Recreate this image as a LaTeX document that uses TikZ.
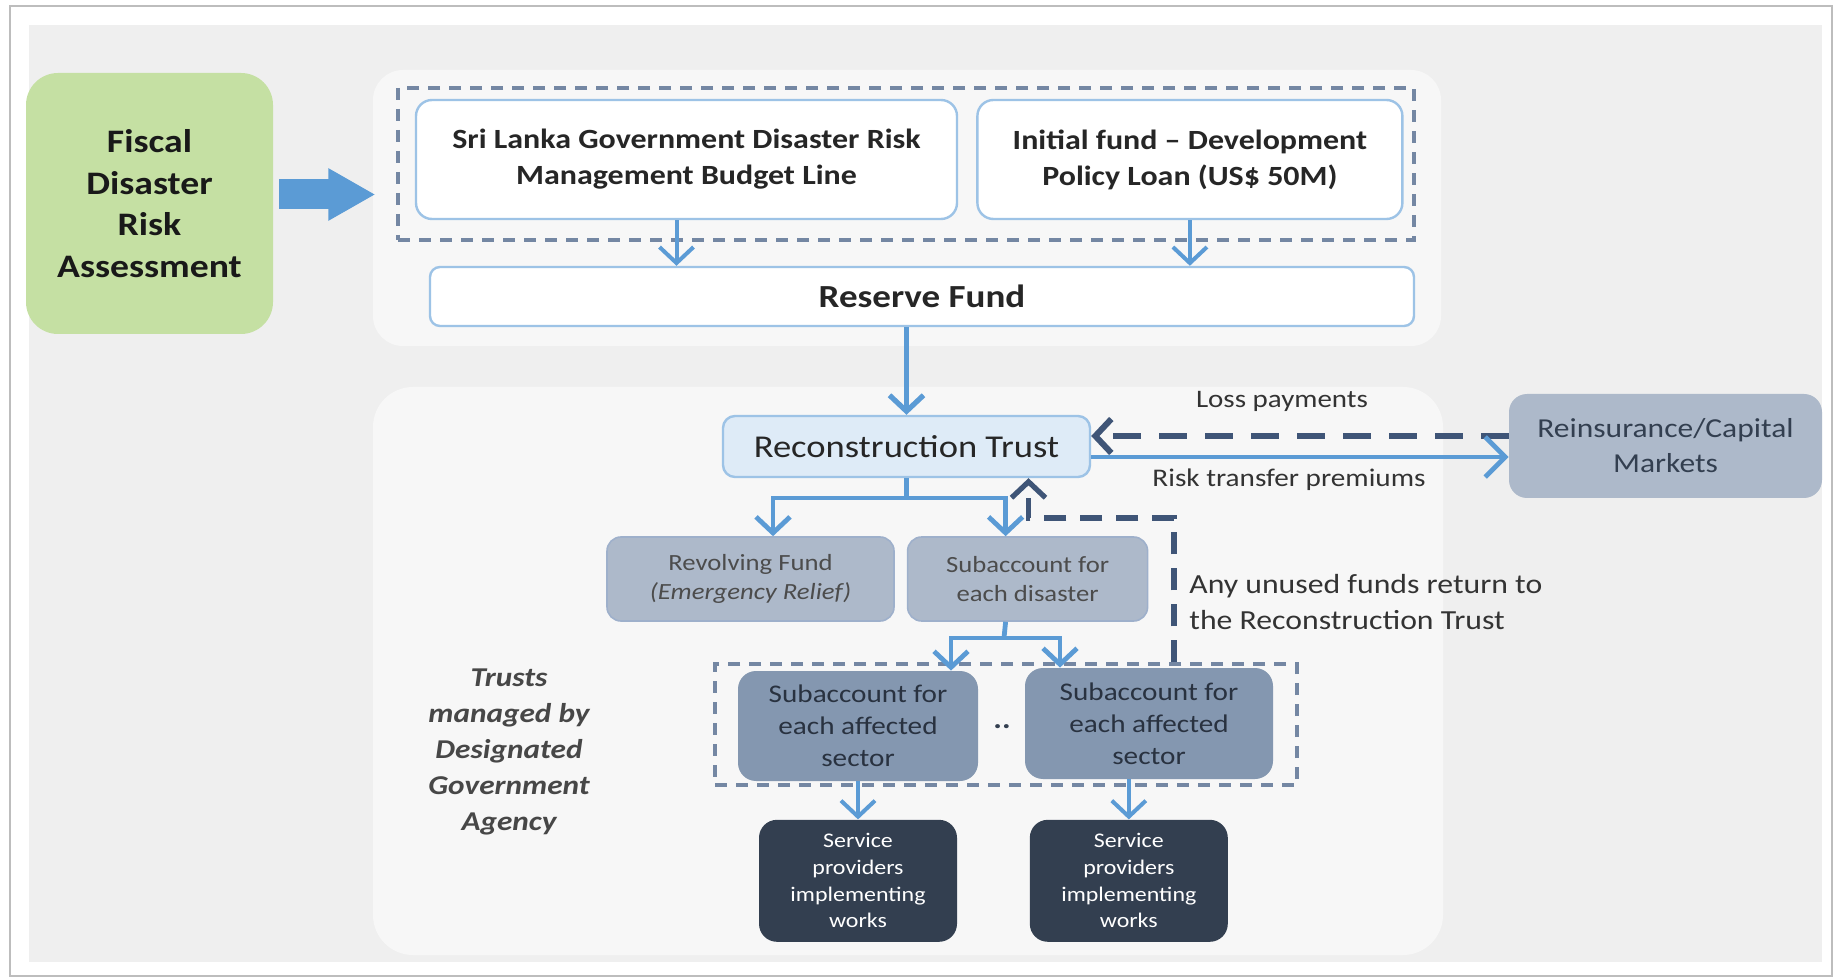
\documentclass[tikz,border=0pt]{standalone}
\usepackage{fontspec}
\setmainfont{Carlito}[FakeStretch=1.15]
\usetikzlibrary{arrows.meta,positioning}

\definecolor{bggrey}{HTML}{EFEFEF}
\definecolor{panelgrey}{HTML}{F7F7F7}
\definecolor{framegrey}{HTML}{BDBDBD}
\definecolor{fiscalgreen}{HTML}{C5E0A3}
\definecolor{flowblue}{HTML}{5B9BD5}
\definecolor{edgeblue}{HTML}{9DC3E6}
\definecolor{paleblue}{HTML}{DEEBF7}
\definecolor{greyblue}{HTML}{ADB9CA}
\definecolor{greyedge}{HTML}{9EB0CB}
\definecolor{sectorblue}{HTML}{8497B0}
\definecolor{navy}{HTML}{333F50}
\definecolor{dashgrey}{HTML}{7487A3}
\definecolor{darkslate}{HTML}{3F5577}

\begin{document}
\begin{tikzpicture}[x=0.5pt, y=-0.5pt, node distance=10pt,
  lightbox/.style={rectangle, draw=edgeblue, line width=1.2pt, rounded corners=8pt, fill=white, align=center, inner sep=0pt, text=black!85},
  greybox/.style={rectangle, draw=greyedge, line width=0.8pt, rounded corners=7pt, fill=greyblue, align=center, inner sep=0pt, text=black!70, font=\fontsize{11.6}{14.6}\selectfont},
  sectorbox/.style={rectangle, rounded corners=9pt, fill=sectorblue, align=center, inner sep=0pt, text=navy!80!black, font=\fontsize{12.7}{16}\selectfont},
  workbox/.style={rectangle, rounded corners=9pt, fill=navy, align=center, inner sep=0pt, text=white, font=\fontsize{10.4}{13.3}\selectfont},
  group/.style={rectangle, draw=dashgrey, line width=1.6pt, dash pattern=on 6pt off 4.5pt, inner sep=0pt},
  flow/.style={draw=flowblue, line width=2pt, -{Straight Barb[length=8pt,width=17pt]}},
  backflow/.style={draw=darkslate, line width=2.6pt, dash pattern=on 11pt off 7pt, -{Straight Barb[length=8pt,width=17pt]}},
  lbl/.style={inner sep=0pt, text=black!80}]

  % page and panels
  \path[use as bounding box, fill=white] (0,0) rectangle (1837,978);
  \fill[bggrey] (29,25) rectangle (1822,962);
  \draw[framegrey, line width=1pt] (10,6) rectangle (1832,976);
  \fill[panelgrey, rounded corners=15pt] (373,70) rectangle (1441,346);
  \fill[panelgrey, rounded corners=20pt] (373,387) rectangle (1443,955);

  % funding sources
  \node[rectangle, rounded corners=16pt, fill=fiscalgreen, minimum width=123.5pt, minimum height=130.5pt, align=center, inner sep=0pt, text=black!90, font=\bfseries\fontsize{16.4}{20.8}\selectfont] (fiscal) at (149.5,203.5) {Fiscal\\Disaster\\Risk\\Assessment};
  \node[group, minimum width=508pt, minimum height=76pt] (topgrp) at (906,164) {};
  \node[lightbox, minimum width=270.5pt, minimum height=59.5pt, font=\bfseries\fontsize{13.9}{18}\selectfont] (budget) at (686.5,159.5) {Sri Lanka Government Disaster Risk\\Management Budget Line};
  \node[lightbox, minimum width=212.5pt, minimum height=59.5pt, right=9pt of budget, font=\bfseries\fontsize{13.9}{18}\selectfont] (loan) {Initial fund -- Development\\Policy Loan (US\$ 50M)};
  \node[lightbox, rounded corners=5pt, minimum width=492pt, minimum height=29.5pt, font=\bfseries\fontsize{16.1}{19}\selectfont] (reserve) at (922,296.5) {Reserve Fund};

  % trust and market
  \node[lightbox, fill=paleblue, rounded corners=6pt, minimum width=183.5pt, minimum height=30.5pt, font=\fontsize{15.9}{19}\selectfont] (trust) at (906.5,446.5) {Reconstruction Trust};
  \node[rectangle, rounded corners=9pt, fill=greyblue, minimum width=156.5pt, minimum height=52pt, align=center, inner sep=0pt, text=navy, font=\fontsize{13.7}{17.5}\selectfont] (market) at (1665.5,446) {Reinsurance/Capital\\Markets};
  \node[lbl, font=\fontsize{12.6}{15}\selectfont] (loss) at (1282,401) {Loss payments};
  \node[lbl, font=\fontsize{12.7}{15}\selectfont] (premium) at (1289,480) {Risk transfer premiums};

  % subaccounts
  \node[greybox, minimum width=143.5pt, minimum height=42pt] (revolving) at (750.5,579) {Revolving Fund\\\textit{(Emergency Relief)}};
  \node[greybox, minimum width=120pt, minimum height=42pt, right=6pt of revolving] (disaster) {Subaccount for\\each disaster};
  \node[lbl, anchor=west, align=left, font=\fontsize{13.8}{18}\selectfont] (unused) at (1189,602) {Any unused funds return to\\the Reconstruction Trust};
  \node[group, minimum width=291pt, minimum height=60.5pt] (secgrp) at (1006,724.5) {};
  \node[sectorbox, minimum width=120pt, minimum height=55pt] (sector1) at (858,726) {Subaccount for\\each affected\\sector};
  \node[sectorbox, minimum width=124pt, minimum height=55.5pt] (sector2) at (1149,723.5) {Subaccount for\\each affected\\sector};
  \node[lbl, text=navy, font=\bfseries\fontsize{14}{16}\selectfont] (dots) at (1002,727) {..};
  \node[workbox, minimum width=99pt, minimum height=61pt, below=19pt of sector1] (works1) {Service\\providers\\implementing\\works};
  \node[workbox, minimum width=99pt, minimum height=61pt, right=36pt of works1] (works2) {Service\\providers\\implementing\\works};
  \node[lbl, align=center, text=black!72, font=\bfseries\itshape\fontsize{13.6}{17.9}\selectfont] (agency) at (509,752) {Trusts\\managed by\\Designated\\Government\\Agency};

  % connectors
  \draw[draw=flowblue, line width=15pt, -{Triangle[length=23.5pt,width=24.5pt]}] ([xshift=3pt,yshift=4.5pt]fiscal.east) -- ++(48pt,0);
  \draw[flow] ([xshift=-5pt]budget.south) -- ([xshift=-5pt]budget.south |- reserve.north);
  \draw[flow] (loan.south) -- (loan.south |- reserve.north);
  \draw[flow, line width=2.6pt] (reserve.south -| trust.north) -- (trust.north);
  \draw[backflow, line width=3pt, dash pattern=on 14pt off 9pt] ([yshift=5pt]market.west) -- ([yshift=5pt]market.west -| trust.east);
  \draw[flow, line width=2.4pt, -{Straight Barb[length=10pt,width=20pt]}] ([yshift=-5.25pt]trust.east) -- ([yshift=-5.25pt]trust.east -| market.west);
  \coordinate (split) at (906.5,498);
  \draw[draw=flowblue, line width=2.4pt] (trust.south) -- (split);
  \draw[flow, line width=2.4pt] (split) -| ([xshift=11.25pt]revolving.north);
  \draw[flow, line width=2.4pt] (split) -| ([xshift=-11pt]disaster.north);
  \coordinate (bend) at (1174,518);
  \draw[backflow] (secgrp.north -| bend) -- (bend) -| ([xshift=61pt]trust.south);
  \coordinate (split2) at (1004,638);
  \draw[draw=flowblue, line width=2.4pt] ([xshift=-11pt]disaster.south) -- (split2);
  \draw[flow, line width=2.4pt] (split2) -| ([xshift=46.5pt]sector1.north);
  \draw[flow, line width=2.4pt] (split2) -| ([xshift=-44.5pt]sector2.north);
  \draw[flow] (works1.north |- sector1.south) -- (works1.north);
  \draw[flow] (works2.north |- sector2.south) -- (works2.north);
\end{tikzpicture}
\end{document}
